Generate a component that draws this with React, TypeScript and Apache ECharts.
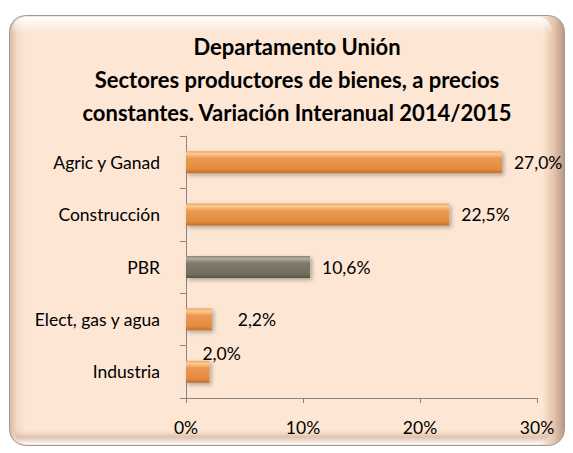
import React, { useEffect, useRef } from "react";
import * as echarts from "echarts";

const categories = ["Industria", "Elect, gas y agua", "PBR", "Construcción", "Agric y Ganad"];
const values = [2.0, 2.2, 10.6, 22.5, 27.0];
const highlighted = ["PBR"];
const xTicks = [0, 10, 20, 30];
const titleLines = [
  "Departamento Unión",
  "Sectores productores de bienes, a precios",
  "constantes. Variación Interanual 2014/2015",
];

const FONT = "Lato, 'Open Sans', sans-serif";
const FS = 17.5;

const orangeGrad = new echarts.graphic.LinearGradient(0, 0, 0, 1, [
  { offset: 0, color: "#F0A45E" },
  { offset: 0.12, color: "#FBCB90" },
  { offset: 0.32, color: "#EC9A52" },
  { offset: 0.82, color: "#E38A3F" },
  { offset: 1, color: "#BF6E2E" },
]);
const grayGrad = new echarts.graphic.LinearGradient(0, 0, 0, 1, [
  { offset: 0, color: "#8A8474" },
  { offset: 0.12, color: "#B2AD9C" },
  { offset: 0.32, color: "#7F7969" },
  { offset: 0.82, color: "#736D5E" },
  { offset: 1, color: "#575245" },
]);

function fmt(v: number) {
  return v.toFixed(1).replace(".", ",") + "%";
}

export default function App() {
  const ref = useRef<HTMLDivElement>(null);
  useEffect(() => {
    if (!ref.current) return;
    const chart = echarts.init(ref.current, undefined, { renderer: "svg" });
    const data = values.map((v, i) => {
      const cat = categories[i];
      const item: any = {
        value: v,
        itemStyle: { color: highlighted.includes(cat) ? grayGrad : orangeGrad },
      };
      if (cat === "Elect, gas y agua") {
        item.label = { distance: 26 };
      }
      if (cat === "Industria") {
        item.label = { distance: 0, offset: [-7, -18] };
      }
      return item;
    });
    chart.setOption({
      animation: false,
      graphic: [
        {
          type: "rect",
          z: -10,
          silent: true,
          shape: { x: 9.5, y: 15.5, width: 555, height: 430, r: 16 },
          style: {
            fill: new echarts.graphic.LinearGradient(0, 0, 1, 0, [
              { offset: 0, color: "#D9BBA5" },
              { offset: 0.015, color: "#F6DCC8" },
              { offset: 0.03, color: "#FDE6D3" },
              { offset: 0.96, color: "#FDE6D3" },
              { offset: 0.982, color: "#E3C2AA" },
              { offset: 1, color: "#B89883" },
            ]),
            stroke: "#9A9A9A",
            lineWidth: 1,
          },
        },
        {
          type: "rect",
          z: -9,
          silent: true,
          shape: { x: 12, y: 17, width: 540, height: 16, r: [14, 14, 0, 0] },
          style: {
            fill: new echarts.graphic.LinearGradient(0, 0, 0, 1, [
              { offset: 0, color: "rgba(255,255,255,0.95)" },
              { offset: 1, color: "rgba(255,255,255,0)" },
            ]),
          },
        },
        {
          type: "rect",
          z: -9,
          silent: true,
          shape: { x: 14, y: 430, width: 536, height: 14, r: [0, 0, 14, 14] },
          style: {
            fill: new echarts.graphic.LinearGradient(0, 0, 0, 1, [
              { offset: 0, color: "rgba(230,200,178,0)" },
              { offset: 0.5, color: "rgba(215,185,165,0.8)" },
              { offset: 1, color: "rgba(255,255,255,0.9)" },
            ]),
          },
        },
        {
          type: "text",
          silent: true,
          x: 297,
          y: 79,
          style: {
            text: titleLines.join("\n"),
            fontFamily: FONT,
            fontWeight: "bold",
            fontSize: 22,
            lineHeight: 33,
            fill: "#000000",
            align: "center",
            verticalAlign: "middle",
          },
        },
      ],
      grid: { left: 186, right: 36, top: 136, bottom: 55, containLabel: false },
      xAxis: {
        type: "value",
        min: 0,
        max: 30,
        interval: 10,
        splitLine: { show: false },
        axisLine: { show: true, lineStyle: { color: "#868686", width: 1 } },
        axisTick: { show: true, length: 5, lineStyle: { color: "#868686" } },
        axisLabel: {
          formatter: (v: number) => (xTicks.includes(v) ? v + "%" : ""),
          color: "#000000",
          fontFamily: FONT,
          fontSize: FS,
          margin: 20,
        },
      },
      yAxis: {
        type: "category",
        data: categories,
        axisLine: { show: true, lineStyle: { color: "#868686", width: 1 } },
        axisTick: { show: true, length: 6, lineStyle: { color: "#868686" } },
        axisLabel: {
          color: "#000000",
          fontFamily: FONT,
          fontSize: FS,
          margin: 26,
        },
      },
      series: [
        {
          type: "bar",
          data,
          barWidth: 22,
          itemStyle: {
            shadowColor: "rgba(0,0,0,0.3)",
            shadowBlur: 4,
            shadowOffsetX: 2,
            shadowOffsetY: 2,
          },
          label: {
            show: true,
            position: "right",
            distance: 12,
            formatter: (p: any) => fmt(p.value),
            color: "#000000",
            fontFamily: FONT,
            fontSize: FS,
          },
        },
      ],
    });
    return () => chart.dispose();
  }, []);
  return <div ref={ref} style={{ width: 573, height: 453, position: "absolute", left: 0, top: 0 }} />;
}
